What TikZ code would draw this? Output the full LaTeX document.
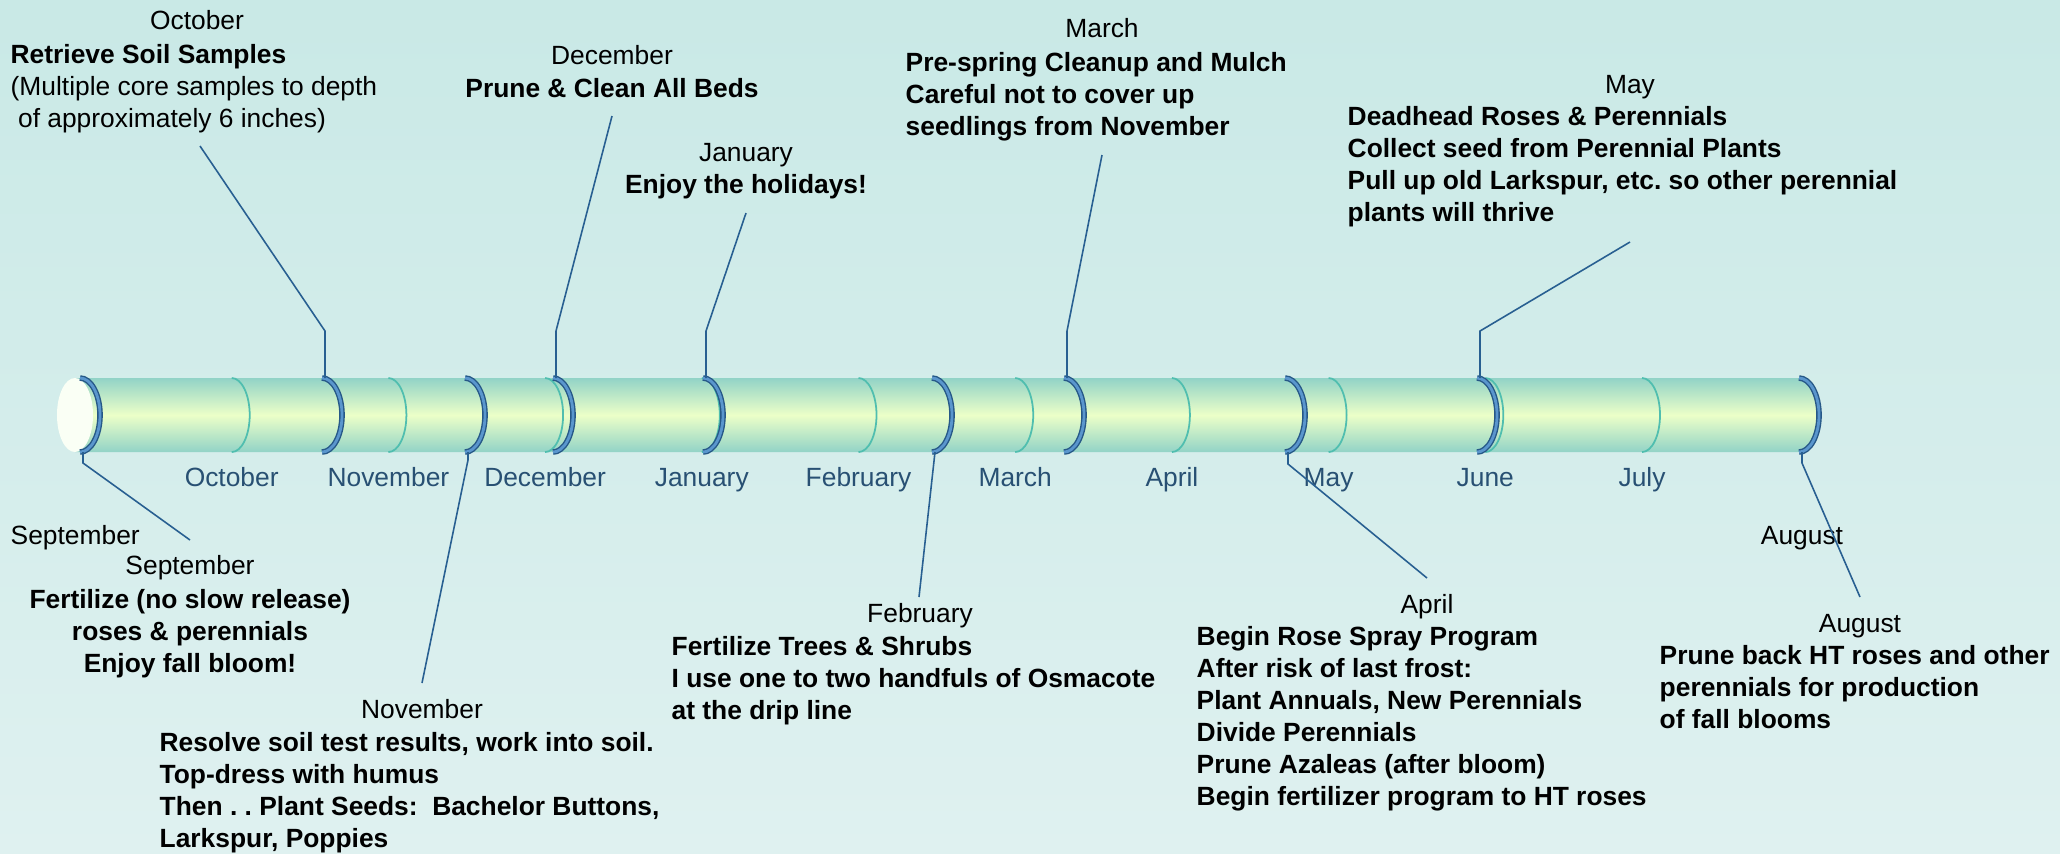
\documentclass[tikz,border=0pt]{standalone}
\usepackage{fontspec}
\setmainfont{Liberation Sans}
\frenchspacing

\definecolor{bgtop}{RGB}{201,233,230}
\definecolor{bgbot}{RGB}{223,241,240}
\definecolor{tubeedge}{RGB}{146,211,199}
\definecolor{tubemid}{RGB}{236,255,200}
\definecolor{tickteal}{RGB}{80,190,175}
\definecolor{ringdark}{RGB}{38,88,135}
\definecolor{ringblue}{RGB}{90,150,205}
\definecolor{leaderblue}{RGB}{40,95,145}
\definecolor{axisblue}{RGB}{40,80,115}
\definecolor{capwhite}{RGB}{250,255,245}

\newcommand{\evfont}{\fontsize{7.5}{9.1}\selectfont}

\begin{document}
\begin{tikzpicture}[x=0.01cm, y=-0.01cm,
    hdr/.style={anchor=base, inner sep=0pt, font=\evfont},
    body/.style={anchor=north west, align=left, inner sep=0pt, font=\evfont\bfseries},
    mlabel/.style={anchor=base, inner sep=0pt, text=axisblue, font=\evfont},
    leader/.style={draw=leaderblue, line width=0.45pt},
    tick/.style={draw=tickteal, line width=0.5pt},
    ring/.style={draw=ringdark, line width=0.4pt, double=ringblue, double distance=0.8pt}]

    % Background
    \useasboundingbox (0,0) rectangle (2060,853);
    \shade[top color=bgtop, bottom color=bgbot] (0,0) rectangle (2060,853);

    % Draw the tube
    \path[top color=tubeedge, bottom color=tubeedge, middle color=tubemid]
        (75,378) -- (1799,378) arc[start angle=90, end angle=-90, x radius=0.2cm, y radius=0.37cm]
        -- (75,452) -- cycle;
    \fill[capwhite] (75,415) ellipse[x radius=0.18cm, y radius=0.37cm];

    % Month ticks and labels
    \foreach \m/\mon in {1/October,2/November,3/December,4/January,5/February,
                         6/March,7/April,8/May,9/June,10/July} {
        \draw[tick] ({75+156.7*\m},378) arc[start angle=90, end angle=-90, x radius=0.18cm, y radius=0.37cm];
        \node[mlabel] (tick\m) at ({75+156.7*\m},486) {\mon};
    }

    % Event rings
    \foreach \name/\x in {sep/80,oct/322,nov/465,dec/553,jan/703,feb/932,mar/1064,apr/1285,may/1477,aug/1799} {
        \draw[ring] (\x,378) arc[start angle=90, end angle=-90, x radius=0.2cm, y radius=0.37cm];
        \coordinate (\name-top) at ({\x+3},378);
        \coordinate (\name-bot) at ({\x+3},452);
    }

    % Draw the notes above the tube
    \node[hdr] (octHdr) at (197,29) {October};
    \node[body, font=\evfont] (octBody) at (10,44)
        {\textbf{Retrieve Soil Samples}\\(Multiple core samples to depth\\\hspace{0.28em}of approximately 6 inches)};
    \node[hdr] (decHdr) at (612,64) {December};
    \node[body, anchor=north] (decBody) at (612,78) {Prune \& Clean All Beds};
    \node[hdr] (janHdr) at (746,161) {January};
    \node[body, anchor=north] (janBody) at (746,174) {Enjoy the holidays!};
    \node[hdr] (marHdr) at (1102,37) {March};
    \node[body] (marBody) at (905,52)
        {Pre-spring Cleanup and Mulch\\Careful not to cover up\\seedlings from November};
    \node[hdr] (mayHdr) at (1630,93) {May};
    \node[body] (mayBody) at (1347,106)
        {Deadhead Roses \& Perennials\\Collect seed from Perennial Plants\\
         Pull up old Larkspur, etc. so other perennial\\plants will thrive};

    % Draw the notes below the tube
    \node[hdr, anchor=base west] (sepTag) at (10,544) {September};
    \node[hdr] (sepHdr) at (190,574) {September};
    \node[body, anchor=north, align=center] (sepBody) at (190,589)
        {Fertilize (no slow release)\\roses \& perennials\\Enjoy fall bloom!};
    \node[hdr] (novHdr) at (422,718) {November};
    \node[body] (novBody) at (159,732)
        {Resolve soil test results, work into soil.\\Top-dress with humus\\
         Then . . Plant Seeds:\ \ Bachelor Buttons,\\Larkspur, Poppies};
    \node[hdr] (febHdr) at (920,622) {February};
    \node[body] (febBody) at (671,636)
        {Fertilize Trees \& Shrubs\\I use one to two handfuls of Osmacote\\at the drip line};
    \node[hdr] (aprHdr) at (1427,613) {April};
    \node[body] (aprBody) at (1196,626)
        {Begin Rose Spray Program\\After risk of last frost:\\Plant Annuals, New Perennials\\
         Divide Perennials\\Prune Azaleas (after bloom)\\Begin fertilizer program to HT roses};
    \node[hdr] (augTag) at (1802,544) {August};
    \node[hdr] (augHdr) at (1860,632) {August};
    \node[body] (augBody) at (1659,645)
        {Prune back HT roses and other\\perennials for production\\of fall blooms};

    % Leader tips
    \coordinate (sepTip) at (190,540);
    \coordinate (octTip) at (200,146);
    \coordinate (novTip) at (422,683);
    \coordinate (decTip) at (612,116);
    \coordinate (janTip) at (746,213);
    \coordinate (febTip) at (919,597);
    \coordinate (marTip) at (1102,155);
    \coordinate (aprTip) at (1427,578);
    \coordinate (mayTip) at (1630,242);
    \coordinate (augTip) at (1860,597);

    % Draw leaders
    \foreach \name in {oct,dec,jan,mar,may} {
        \draw[leader] (\name-top) -- ++(0,-47) -- (\name Tip);
    }
    \foreach \name/\drop in {sep/11,nov/8,apr/12,aug/11} {
        \draw[leader] (\name-bot) -- ++(0,\drop) -- (\name Tip);
    }
    \draw[leader] (feb-bot) -- (febTip);

\end{tikzpicture}
\end{document}
